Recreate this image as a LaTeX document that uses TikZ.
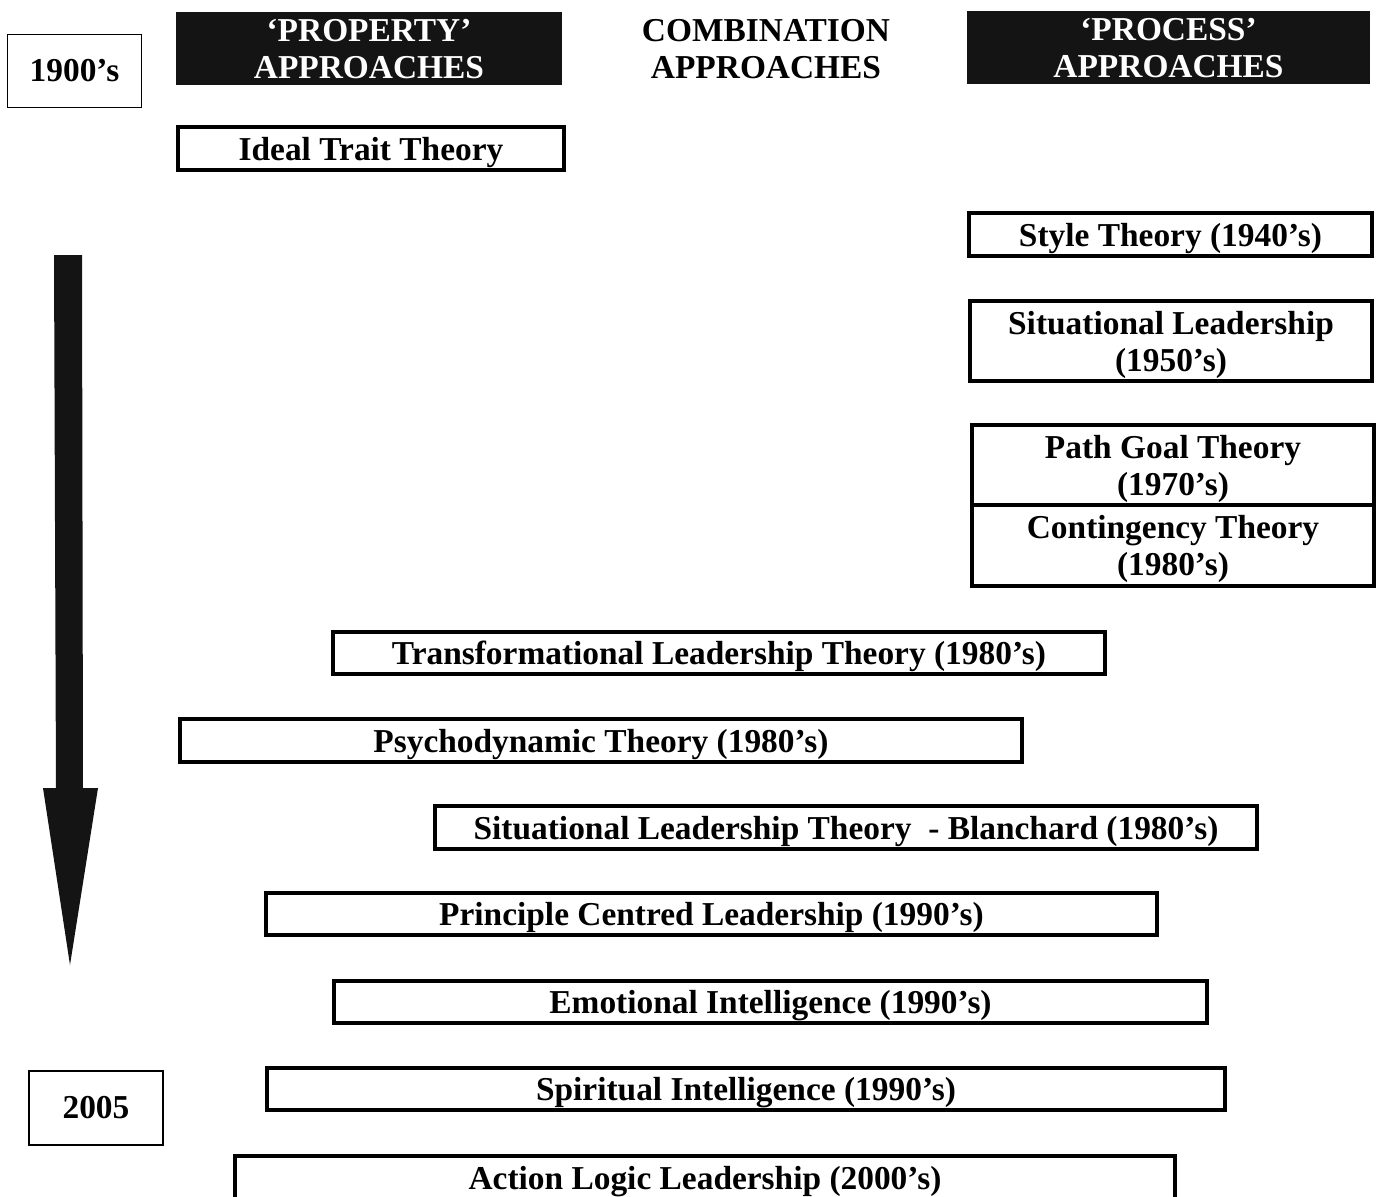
\documentclass[tikz,border=0pt]{standalone}
\usepackage{fontspec}
\setmainfont{Liberation Serif}
\begin{document}
\begin{tikzpicture}[x=0.5pt,y=-0.5pt,
  lbl/.style={font=\fontsize{16.7}{18.5}\selectfont\bfseries, align=center, inner sep=0pt},
  sz/.style 2 args={minimum width=#1*0.5pt, minimum height=#2*0.5pt},
  tbox/.style={lbl, draw, line width=2pt, text depth=0pt},
  thinbox/.style={lbl, draw, line width=0.8pt},
  hdr/.style={lbl, fill=black!92, text=white, text depth=0pt}]
\useasboundingbox (0,0) rectangle (1383,1196);
\begin{scope}
\clip (0,0) rectangle (1383,1196);
% year boxes
\node[thinbox, sz={134}{73}] (y1900) at (74.5,71) {1900’s};
\node[thinbox, sz={134}{74}] (y2005) at (96,1108) {2005};
% headers
\node[hdr, sz={386}{73}] (prop) at (369,48.5) {‘PROPERTY’\\APPROACHES};
\node[lbl, text depth=0pt] (comb) at (766,48.5) {COMBINATION\\APPROACHES};
\node[hdr, sz={403}{73}] (proc) at (1168.5,47.5) {‘PROCESS’\\APPROACHES};
% theory boxes
\node[tbox, sz={386}{43}] (ideal) at (371,148.5) {Ideal Trait Theory};
\node[tbox, sz={403}{43}] (style) at (1170.5,234.5) {Style Theory (1940’s)};
\node[tbox, sz={402}{80}] (sit50) at (1171,341) {Situational Leadership\\(1950’s)};
\node[tbox, sz={402}{80}] (path) at (1173,465) {Path Goal Theory\\(1970’s)};
\node[tbox, sz={402}{81}] (cont) at (1173,545.5) {Contingency Theory\\(1980’s)};
\node[tbox, sz={772}{42}] (trans) at (719,653) {Transformational Leadership Theory (1980’s)};
\node[tbox, sz={842}{43}] (psych) at (601,740.5) {Psychodynamic Theory (1980’s)};
\node[tbox, sz={822}{43}] (blan) at (846,827.5) {Situational Leadership Theory\ \ - Blanchard (1980’s)};
\node[tbox, sz={891}{42}] (princ) at (711.5,914) {Principle Centred Leadership (1990’s)};
\node[tbox, sz={873}{42}] (emo) at (770.5,1002) {Emotional Intelligence (1990’s)};
\node[tbox, sz={958}{42}] (spir) at (746,1089) {Spiritual Intelligence (1990’s)};
\node[tbox, sz={940}{43}] (act) at (705,1177.5) {Action Logic Leadership (2000’s)};
% time arrow
\fill[black!92] (54,255) -- (82,255) -- (83,788) -- (98,788) -- (70,965) -- (43,788) -- (56,788) -- cycle;
\end{scope}
\end{tikzpicture}
\end{document}
